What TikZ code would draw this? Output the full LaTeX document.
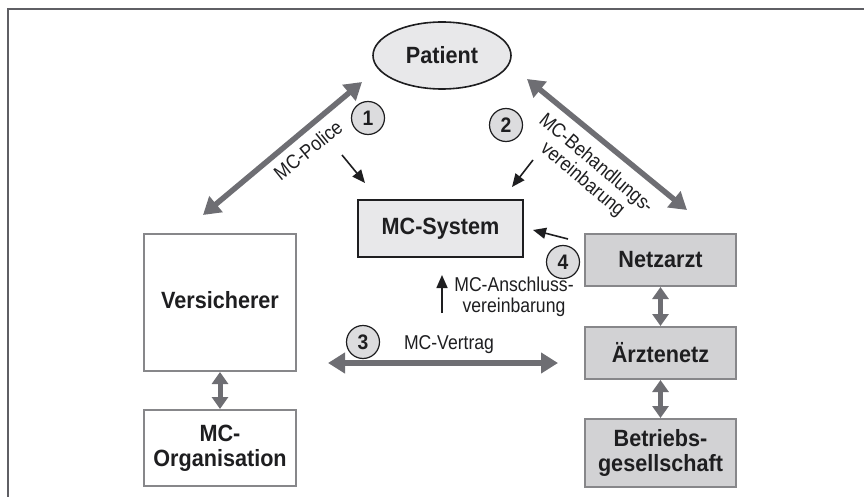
\documentclass[tikz,border=0pt]{standalone}
\usepackage{fontspec}
\setmainfont{Liberation Sans}
\newfontfamily\headfam[FakeStretch=0.92]{Liberation Sans}
\newfontfamily\notefam[FakeStretch=0.88]{Liberation Sans}
\usetikzlibrary{arrows.meta,shapes.geometric}

\definecolor{framegray}{RGB}{95,95,100}
\definecolor{arrowgray}{RGB}{110,110,115}
\definecolor{boxline}{RGB}{135,135,138}
\definecolor{darkfill}{RGB}{210,210,212}
\definecolor{lightfill}{RGB}{232,232,234}
\definecolor{circfill}{RGB}{220,220,222}
\definecolor{inkblack}{RGB}{30,30,32}

\tikzset{
  bigfont/.style={font=\headfam\fontsize{23.5}{25}\selectfont\bfseries, text=inkblack},
  lblfont/.style={font=\notefam\fontsize{20}{21}\selectfont, align=center, inner sep=0pt, text=inkblack},
  whitebox/.style={draw=boxline, line width=2pt, fill=white, bigfont, align=center, inner sep=0pt},
  graybox/.style={draw=boxline, line width=2pt, fill=darkfill, bigfont, align=center, inner sep=0pt},
  numcirc/.style={circle, draw=inkblack, line width=1.2pt, fill=circfill, minimum size=33pt, inner sep=0pt,
    font=\headfam\fontsize{21}{22}\selectfont\bfseries, text=inkblack},
  bigarrow/.style={draw=arrowgray, line width=5.5pt,
    {Triangle[length=17pt,width=20pt]}-{Triangle[length=17pt,width=20pt]}},
  linkarrow/.style={draw=arrowgray, line width=5pt,
    {Triangle[length=12pt,width=16pt]}-{Triangle[length=12pt,width=16pt]}},
  thinarrow/.style={draw=inkblack, line width=1.6pt, -{Triangle[length=13pt,width=11pt]}},
}

\begin{document}
\begin{tikzpicture}[x=1pt,y=-1pt]
\useasboundingbox (0,0) rectangle (864,497);

% frame along top and left
\draw[framegray, line width=2.5pt] (8,497) -- (8,9) -- (864,9);

% parties
\node[ellipse, draw=inkblack, line width=1.6pt, fill=lightfill, minimum width=138pt, minimum height=67pt,
      inner sep=0pt, bigfont] (patient) at (442,55.5) {Patient};
\node[draw=inkblack, line width=2pt, fill=lightfill, minimum width=165pt, minimum height=57pt,
      inner sep=0pt, bigfont] (mcsys) at (440.5,228.5) {MC-System};
\node[whitebox, minimum width=152pt, minimum height=137pt]
      (vers) at (220,302.5) {\raisebox{5pt}{Versicherer}};
\node[whitebox, minimum width=152pt, minimum height=76pt] (mcorg) at (220,448) {MC-\\Organisation};
\node[graybox, minimum width=151pt, minimum height=52pt] (netz) at (660.5,260) {Netzarzt};
\node[graybox, minimum width=151pt, minimum height=52pt] (aerzte) at (660.5,353) {Ärztenetz};
\node[graybox, minimum width=151pt, minimum height=68pt] (betr) at (660.5,453) {Betriebs-\\gesellschaft};

% numbered markers
\node[numcirc] (c1) at (368,118) {1};
\node[numcirc] (c2) at (506,125) {2};
\node[numcirc] (c3) at (363,342) {3};
\node[numcirc] (c4) at (563,262) {4};

% connector end points
\coordinate (p1a) at (362,82);
\coordinate (p1b) at (203,215);
\coordinate (p2a) at (527,79);
\coordinate (p2b) at (687,210);
\coordinate (v3a) at (328,363);
\coordinate (v3b) at (558,363);
\coordinate (s1a) at (342,155);
\coordinate (s1b) at (365,183);
\coordinate (s2a) at (533,160);
\coordinate (s2b) at (512,187);
\coordinate (s3a) at (442,313);
\coordinate (s3b) at (442,275);
\coordinate (s4a) at (568,239);
\coordinate (s4b) at (533,230);

% contracts between the parties
\draw[bigarrow] (p1a) -- (p1b);
\draw[bigarrow] (p2a) -- (p2b);
\draw[bigarrow] (v3a) -- (v3b);
\draw[linkarrow] (vers.south) -- (mcorg.north);
\draw[linkarrow] (netz.south) -- (aerzte.north);
\draw[linkarrow] (aerzte.south) -- (betr.north);

% contributions to the MC system
\draw[thinarrow] (s1a) -- (s1b);
\draw[thinarrow] (s2a) -- (s2b);
\draw[thinarrow] (s3a) -- (s3b);
\draw[thinarrow] (s4a) -- (s4b);

% labels
\node[lblfont, rotate=39] (lpolice) at (308,150) {MC-Police};
\node[lblfont, rotate=-40] (lbehand) at (589,172) {MC-Behandlungs-\\vereinbarung};
\node[lblfont] (lvertrag) at (449,345) {MC-Vertrag};
\node[lblfont] (lanschl) at (514,297) {MC-Anschluss-\\vereinbarung};
\end{tikzpicture}
\end{document}
